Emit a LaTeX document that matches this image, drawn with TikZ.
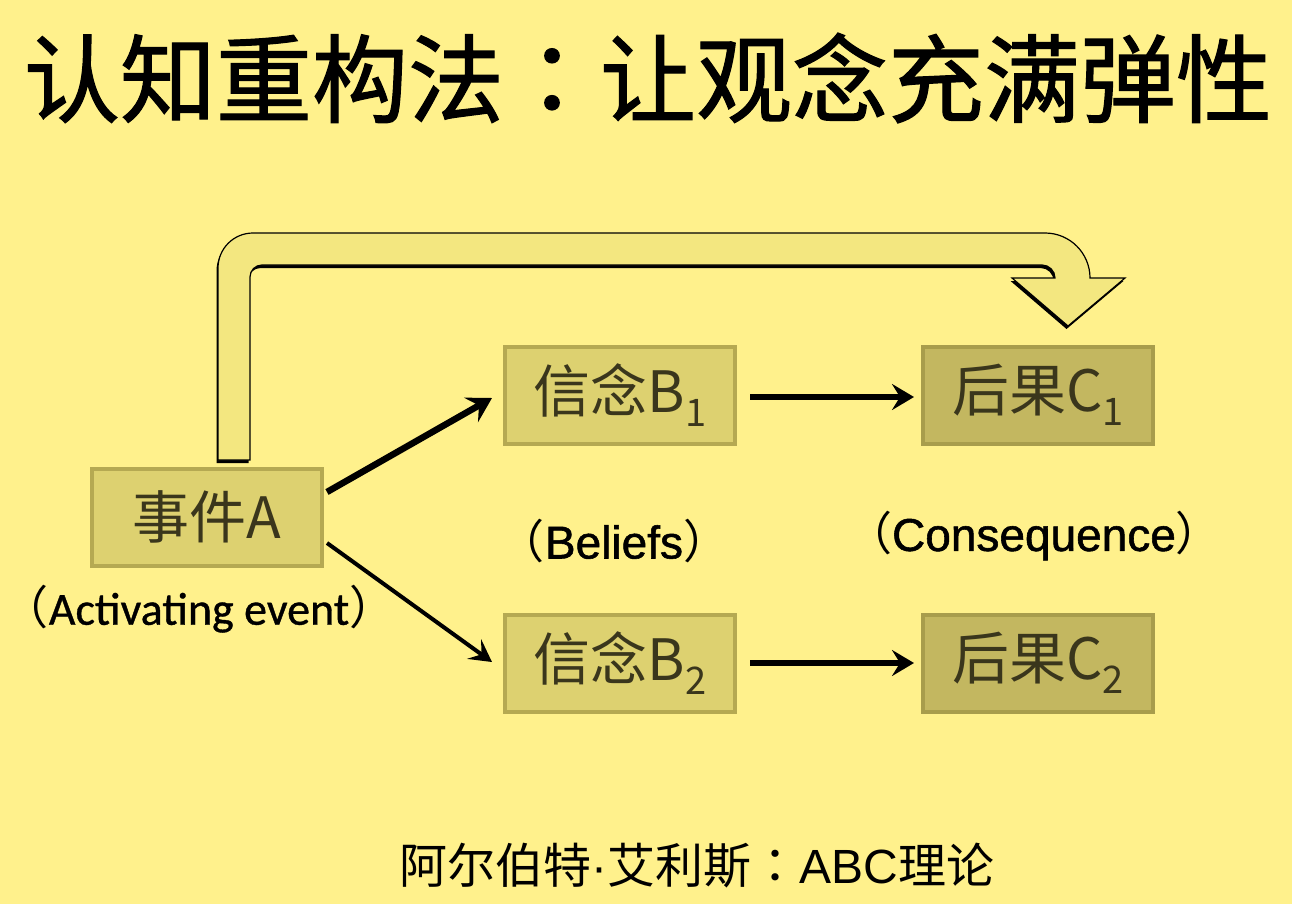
\documentclass[tikz,border=0pt]{standalone}
\usepackage{fontspec}
\usetikzlibrary{arrows.meta}
\newfontfamily\cjk{Noto Sans CJK SC}
\newfontfamily\cjktc{Noto Sans CJK TC}
\newfontfamily\cjktitle{Noto Sans CJK SC}[FakeBold=1.2]
\newfontfamily\cjktitletc{Noto Sans CJK TC}[FakeBold=1.2]
\newfontfamily\lblA{Carlito}[FakeBold=0.8]
\newfontfamily\lblB{Liberation Sans}[FakeBold=1.2]
\newfontfamily\lat{Liberation Sans}
\definecolor{bg}{RGB}{255,241,140}
\definecolor{boxfill}{RGB}{221,209,112}
\definecolor{boxline}{RGB}{181,169,82}
\definecolor{cfill}{RGB}{195,183,96}
\definecolor{cline}{RGB}{168,157,76}
\definecolor{arrfill}{RGB}{243,231,128}
\definecolor{boxtext}{RGB}{58,54,28}
\newcommand{\subnum}[1]{\raisebox{-0.24em}{\fontsize{38}{38}\selectfont #1}}
\tikzset{
  abox/.style={draw=boxline, line width=4pt, fill=boxfill, minimum width=230pt, minimum height=97pt,
    inner sep=0pt, text=boxtext, font=\cjk\fontsize{57}{57}\selectfont},
  cbox/.style={abox, draw=cline, fill=cfill},
  thickarr/.style={line width=6.5pt, -{Stealth[length=24pt,width=28pt,inset=9pt]}},
  thinarr/.style={line width=4pt, -{Stealth[length=22pt,width=24pt,inset=9pt]}},
  midarr/.style={line width=6pt, -{Stealth[length=22pt,width=26pt,inset=8pt]}},
  lbl/.style={inner sep=0pt, text=black}
}
\newcommand{\bigarrowpath}{(218,460) -- (218,268) arc[start angle=180,end angle=270,radius=35]
  -- (1045,233) arc[start angle=270,end angle=360,radius=45]
  -- (1125,278) -- (1068,326) -- (1012,278) -- (1055,278)
  arc[start angle=0,end angle=-90,radius=13]
  -- (262,265) arc[start angle=-90,end angle=-180,radius=12]
  -- (250,460) -- cycle}
\begin{document}
\begin{tikzpicture}[x=1pt,y=-1pt]
\useasboundingbox (0,0) rectangle (1292,904);
\fill[bg] (0,0) rectangle (1292,904);

% title
\node[lbl] (title) at (648,78) {\cjktitle\fontsize{96}{96}\selectfont 认知重构法{\cjktitletc ：}让观念充满弹性};

% big curved arrow
\fill[black, shift={(-1.5,3)}] \bigarrowpath;
\draw[black, line width=1.2pt, fill=arrfill] \bigarrowpath;

% boxes
\node[abox] (A) at (207,517) {事件A};
\node[abox] (B1) at (620,395) {信念B\subnum{1}};
\node[cbox] (C1) at (1038,395) {后果C\subnum{1}};
\node[abox] (B2) at (620,663) {信念B\subnum{2}};
\node[cbox] (C2) at (1038,663) {后果C\subnum{2}};

% labels
\node[lbl] (la) at (199,609) {\cjk\fontsize{46}{46}\selectfont （\lblA Activating event\cjk）};
\node[lbl] (lb) at (614,541) {\cjk\fontsize{46}{46}\selectfont （\lblB Beliefs\cjk）};
\node[lbl] (lc) at (1034,536) {\cjk\fontsize{46}{46}\selectfont （\lblB Consequence\cjk）};

% connectors
\draw[thickarr] ([shift={(3,-25)}]A.east) -- ([shift={(-11,3)}]B1.west);
\draw[thinarr] ([shift={(3,26)}]A.east) -- ([shift={(-11,-1)}]B2.west);
\draw[midarr] ([shift={(13,2)}]B1.east) -- ([shift={(-7,2)}]C1.west);
\draw[midarr] ([shift={(13,0)}]B2.east) -- ([shift={(-7,0)}]C2.west);

% footer
\node[lbl] (foot) at (697,866) {\cjk\fontsize{48}{48}\selectfont 阿尔伯特{\lat\fontsize{48}{48}\selectfont ·}艾利斯{\cjktc ：}{\lat ABC}理论};
\end{tikzpicture}
\end{document}
